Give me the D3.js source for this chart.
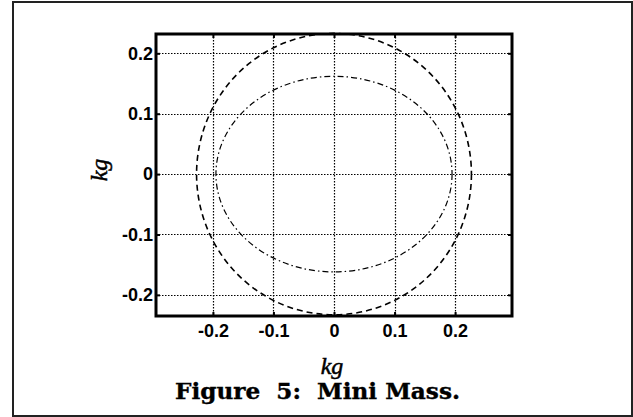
<!DOCTYPE html>
<html>
<head>
<meta charset="utf-8">
<script src="https://cdn.jsdelivr.net/npm/d3@7"></script>
<style>
  body { margin: 0; background: #fff; }
  svg { display: block; }
</style>
</head>
<body>
<div id="chart"></div>
<script>
// chart data
var xTicks = [-0.2, -0.1, 0, 0.1, 0.2];
var yTicks = [-0.2, -0.1, 0, 0.1, 0.2];
var xTickLabels = ["-0.2", "-0.1", "0", "0.1", "0.2"];
var yTickLabels = ["-0.2", "-0.1", "0", "0.1", "0.2"];
var curveNames = ["outer", "inner"];
var curveCx = [0, 0];
var curveCy = [0, 0];
var curveRx = [0.227, 0.195];
var curveRy = [0.233, 0.162];
var curveDash = ["6,4", "6,3,1.5,3"];

var W = 633, H = 417;
var margin = {top: 34, right: 121, bottom: 101, left: 156};
var width = W - margin.left - margin.right,
    height = H - margin.top - margin.bottom;

var svg = d3.select("#chart").append("svg")
  .attr("width", W)
  .attr("height", H);

// outer page frame
svg.append("rect")
  .attr("x", 13).attr("y", 2)
  .attr("width", 619).attr("height", 414)
  .attr("fill", "none")
  .attr("stroke", "#222")
  .attr("stroke-width", 2);

var g = svg.append("g")
  .attr("transform", "translate(" + margin.left + "," + margin.top + ")");

var x = d3.scaleLinear().domain([-0.294, 0.294]).range([0, width]);
var y = d3.scaleLinear().domain([-0.235, 0.232]).range([height, 0]);

// dotted grid
g.selectAll("line.gx")
  .data(xTicks)
  .enter().append("line")
    .attr("class", "gx")
    .attr("x1", function(d) { return Math.round(x(d)) + 0.5; })
    .attr("x2", function(d) { return Math.round(x(d)) + 0.5; })
    .attr("y1", 0).attr("y2", height)
    .attr("stroke", "#000")
    .attr("stroke-width", 1.2)
    .attr("stroke-dasharray", "1.5,1.5");

g.selectAll("line.gy")
  .data(yTicks)
  .enter().append("line")
    .attr("class", "gy")
    .attr("y1", function(d) { return Math.round(y(d)) + 0.5; })
    .attr("y2", function(d) { return Math.round(y(d)) + 0.5; })
    .attr("x1", 0).attr("x2", width)
    .attr("stroke", "#000")
    .attr("stroke-width", 1.2)
    .attr("stroke-dasharray", "1.5,1.5");

// the two curves
g.selectAll("ellipse.curve")
  .data(curveNames)
  .enter().append("ellipse")
    .attr("class", "curve")
    .attr("cx", function(d, i) { return x(curveCx[i]); })
    .attr("cy", function(d, i) { return y(curveCy[i]); })
    .attr("rx", function(d, i) { return x(curveRx[i]) - x(0); })
    .attr("ry", function(d, i) { return y(0) - y(curveRy[i]); })
    .attr("fill", "none")
    .attr("stroke", "#000")
    .attr("stroke-width", function(d, i) { return i == 0 ? 1.6 : 1.2; })
    .attr("stroke-dasharray", function(d, i) { return curveDash[i]; });

// axes: ticks inside, labels outside
var xAxis = d3.axisBottom(x).tickValues(xTicks)
  .tickFormat(function(d, i) { return xTickLabels[i]; })
  .tickSize(-4).tickPadding(8);
var yAxis = d3.axisLeft(y).tickValues(yTicks)
  .tickFormat(function(d, i) { return yTickLabels[i]; })
  .tickSize(-4).tickPadding(3);

g.append("g").attr("transform", "translate(0," + height + ")").call(xAxis);
g.append("g").call(yAxis);
g.append("g").call(d3.axisTop(x).tickValues(xTicks).tickFormat("").tickSize(-4));
g.append("g").attr("transform", "translate(" + width + ",0)")
  .call(d3.axisRight(y).tickValues(yTicks).tickFormat("").tickSize(-4));

g.selectAll(".domain").remove();
g.selectAll(".tick line").attr("stroke", "#000").attr("stroke-width", 2);
g.selectAll(".tick text")
  .attr("font-family", "'Liberation Sans', Arial, sans-serif")
  .attr("font-weight", "bold")
  .attr("font-size", "18px")
  .attr("fill", "#000");

// box
g.append("rect")
  .attr("width", width).attr("height", height)
  .attr("fill", "none")
  .attr("stroke", "#000")
  .attr("stroke-width", 3);

// axis titles
svg.append("text")
  .attr("x", 332).attr("y", 374)
  .attr("text-anchor", "middle")
  .attr("font-family", "'Liberation Serif', 'DejaVu Serif', serif")
  .attr("font-style", "italic")
  .attr("font-size", "24px")
  .attr("stroke", "#000")
  .attr("stroke-width", 0.5)
  .text("kg");

svg.append("text")
  .attr("transform", "translate(107,170) rotate(-90)")
  .attr("text-anchor", "middle")
  .attr("font-family", "'Liberation Serif', 'DejaVu Serif', serif")
  .attr("font-style", "italic")
  .attr("font-size", "24px")
  .attr("stroke", "#000")
  .attr("stroke-width", 0.5)
  .text("kg");

// caption
svg.append("text")
  .attr("x", 175).attr("y", 399)
  .attr("font-family", "'DejaVu Serif', 'Liberation Serif', serif")
  .attr("font-weight", "bold")
  .attr("font-size", "23px")
  .attr("stroke", "#000")
  .attr("stroke-width", 0.4)
  .attr("textLength", 285)
  .attr("lengthAdjust", "spacingAndGlyphs")
  .attr("xml:space", "preserve")
  .text("Figure  5:  Mini Mass.");
</script>
</body>
</html>
